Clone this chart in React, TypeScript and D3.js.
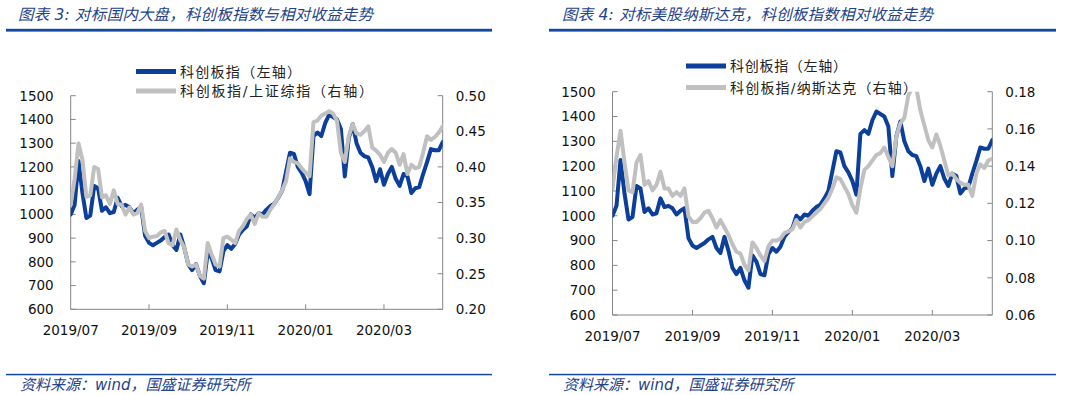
import * as d3 from "d3";

// x axis: trading-day index, label every 40 trading days (every 2nd point kept)
const xLabels = ["2019/07", "2019/09", "2019/11", "2020/01", "2020/03"];
const xLabelIdx = [0, 20, 40, 60, 80];

// 科创板指
const kcIndex = [
  1000, 1040, 1225, 1090, 985, 995, 1120, 1110, 1015, 1030,
  1005, 1010, 1070, 1035, 1040, 1030, 1005, 1020, 1030, 910,
  880, 870, 880, 890, 905, 915, 870, 850, 915, 860,
  790, 765, 790, 740, 710, 840, 815, 765, 760, 845,
  870, 855, 875, 915, 935, 950, 1000, 985, 1005, 1000,
  1020, 1035, 1045, 1070, 1100, 1180, 1260, 1255, 1200, 1175,
  1140, 1085, 1330, 1345, 1330, 1385, 1420, 1410, 1400, 1360,
  1160, 1320, 1380, 1300, 1260, 1245, 1240, 1200, 1140, 1190,
  1125, 1170, 1200, 1150, 1120, 1170, 1160, 1090, 1110, 1115,
  1170, 1220, 1275, 1270, 1270, 1305,
];

// 科创板指/上证综指
const kcVsSse = [
  0.347, 0.383, 0.433, 0.41, 0.358, 0.36, 0.4, 0.397, 0.357, 0.36,
  0.348, 0.367, 0.348, 0.347, 0.333, 0.343, 0.333, 0.335, 0.347, 0.31,
  0.3, 0.302, 0.303, 0.308, 0.31, 0.293, 0.29, 0.312, 0.297, 0.287,
  0.263, 0.26, 0.263, 0.247, 0.243, 0.293, 0.277, 0.263, 0.26, 0.3,
  0.302, 0.298, 0.293, 0.31, 0.317, 0.327, 0.333, 0.32, 0.335, 0.33,
  0.33, 0.34, 0.348, 0.357, 0.367, 0.38, 0.412, 0.407, 0.405, 0.398,
  0.392, 0.387, 0.463, 0.465, 0.472, 0.475, 0.478, 0.475, 0.465, 0.42,
  0.407, 0.443, 0.46, 0.447, 0.445, 0.45, 0.457, 0.427, 0.423, 0.417,
  0.407, 0.42, 0.425, 0.42, 0.403, 0.418, 0.39, 0.403, 0.398, 0.4,
  0.42, 0.443, 0.438, 0.442, 0.448, 0.457,
];

// 科创板指/纳斯达克
const kcVsNasdaq = [
  0.128, 0.145, 0.159, 0.142, 0.127, 0.126, 0.142, 0.146, 0.13, 0.132,
  0.127, 0.13, 0.137, 0.128, 0.128, 0.124, 0.126, 0.124, 0.128, 0.113,
  0.11, 0.11, 0.112, 0.115, 0.116, 0.112, 0.107, 0.111, 0.107, 0.103,
  0.098, 0.094, 0.093, 0.087, 0.084, 0.099, 0.096, 0.092, 0.089, 0.097,
  0.1, 0.1, 0.101, 0.104, 0.105, 0.106, 0.111, 0.107, 0.11, 0.111,
  0.113, 0.115, 0.117, 0.12, 0.123, 0.128, 0.134, 0.133, 0.129, 0.125,
  0.119, 0.115, 0.128, 0.138, 0.14, 0.143, 0.146, 0.147, 0.15, 0.145,
  0.14, 0.156, 0.163, 0.166, 0.178, 0.182, 0.182, 0.17, 0.162, 0.154,
  0.15, 0.157, 0.151, 0.143, 0.135, 0.136, 0.133, 0.131, 0.13, 0.13,
  0.124, 0.136, 0.141, 0.139, 0.143, 0.144,
];

const leftTicks = [600, 700, 800, 900, 1000, 1100, 1200, 1300, 1400, 1500];
const sseTicks = [0.2, 0.25, 0.3, 0.35, 0.4, 0.45, 0.5];
const ndqTicks = [0.06, 0.08, 0.1, 0.12, 0.14, 0.16, 0.18];

const BLUE = "#0c3f9a";
const GRAY = "#c0c0c0";
const AXIS = "#868686";
const TITLE = "#23428a";
const RULE = "#1248a0";
const NUM_FONT = "'DejaVu Sans', Verdana, sans-serif";
const CJK_FONT = "'DejaVu Sans', 'Noto Sans CJK SC', sans-serif";

interface PanelProps {
  id: string;
  x0: number;
  x1: number;
  y0: number;
  y1: number;
  ratio: number[];
  ratioTicks: number[];
  title: string;
  titleX: number;
  titleW: number;
  ruleX0: number;
  ruleX1: number;
  legend1: string;
  legend1W: number;
  legend2: string;
  legend2W: number;
  legX: number;
  legY: number;
  legGap: number;
  footX: number;
}

function Panel(p: PanelProps) {
  const x = d3
    .scaleLinear()
    .domain([0, kcIndex.length - 1])
    .range([p.x0, p.x1]);
  const yL = d3.scaleLinear().domain([600, 1500]).range([p.y1, p.y0]);
  const yR = d3
    .scaleLinear()
    .domain([p.ratioTicks[0], p.ratioTicks[p.ratioTicks.length - 1]])
    .range([p.y1, p.y0]);

  const blueLine = d3
    .line<number>()
    .x((_, i) => x(i))
    .y((d) => yL(d));
  const grayLine = d3
    .line<number>()
    .x((_, i) => x(i))
    .y((d) => yR(d));

  const ticksLen = 5;

  return (
    <g>
      <defs>
        <clipPath id={`clip-${p.id}`}>
          <rect x={p.x0} y={p.y0} width={p.x1 - p.x0} height={p.y1 - p.y0} />
        </clipPath>
      </defs>
      {/* header */}
      <text
        x={p.titleX}
        y={19.5}
        fontSize={15.5}
        fontStyle="italic"
        fill={TITLE}
        fontFamily={CJK_FONT}
        textLength={p.titleW}
        lengthAdjust="spacing"
      >
        {p.title}
      </text>
      <rect x={p.ruleX0} y={28.8} width={p.ruleX1 - p.ruleX0} height={2.8} fill={RULE} />

      {/* axes */}
      <line x1={p.x0} x2={p.x0} y1={p.y0} y2={p.y1} stroke={AXIS} />
      <line x1={p.x1} x2={p.x1} y1={p.y0} y2={p.y1} stroke={AXIS} />
      <line x1={p.x0} x2={p.x1} y1={p.y1} y2={p.y1} stroke={AXIS} />
      {leftTicks.map((t) => (
        <g key={`l${t}`}>
          <line x1={p.x0} x2={p.x0 + ticksLen} y1={yL(t)} y2={yL(t)} stroke={AXIS} />
          <text
            x={p.x0 - 17}
            y={yL(t)}
            dy="0.36em"
            textAnchor="end"
            fontSize={13.5}
            fontFamily={NUM_FONT}
            fill="#111"
          >
            {t}
          </text>
        </g>
      ))}
      {p.ratioTicks.map((t) => (
        <g key={`r${t}`}>
          <line x1={p.x1 - ticksLen} x2={p.x1} y1={yR(t)} y2={yR(t)} stroke={AXIS} />
          <text
            x={p.x1 + 13}
            y={yR(t)}
            dy="0.36em"
            fontSize={13.5}
            fontFamily={NUM_FONT}
            fill="#111"
          >
            {d3.format(".2f")(t)}
          </text>
        </g>
      ))}
      {xLabelIdx.map((idx, k) => (
        <g key={`x${idx}`}>
          {idx > 0 && (
            <line x1={x(idx)} x2={x(idx)} y1={p.y1} y2={p.y1 - ticksLen} stroke={AXIS} />
          )}
          <text
            x={x(idx)}
            y={p.y1 + 26}
            textAnchor="middle"
            fontSize={13.5}
            fontFamily={NUM_FONT}
            fill="#111"
          >
            {xLabels[k]}
          </text>
        </g>
      ))}

      {/* series */}
      <g clipPath={`url(#clip-${p.id})`}>
        <path
          d={blueLine(kcIndex) ?? ""}
          fill="none"
          stroke={BLUE}
          strokeWidth={4}
          strokeLinejoin="round"
          strokeLinecap="round"
        />
        <path
          d={grayLine(p.ratio) ?? ""}
          fill="none"
          stroke={GRAY}
          strokeWidth={4}
          strokeLinejoin="round"
          strokeLinecap="round"
        />
      </g>

      {/* legend */}
      <line x1={p.legX} x2={p.legX + 40} y1={p.legY} y2={p.legY} stroke={BLUE} strokeWidth={5} />
      <text
        x={p.legX + 44}
        y={p.legY}
        dy="0.36em"
        fontSize={14}
        fontFamily={CJK_FONT}
        fill="#222"
        textLength={p.legend1W}
        lengthAdjust="spacing"
      >
        {p.legend1}
      </text>
      <line
        x1={p.legX}
        x2={p.legX + 40}
        y1={p.legY + p.legGap}
        y2={p.legY + p.legGap}
        stroke={GRAY}
        strokeWidth={5}
      />
      <text
        x={p.legX + 44}
        y={p.legY + p.legGap}
        dy="0.36em"
        fontSize={14}
        fontFamily={CJK_FONT}
        fill="#222"
        textLength={p.legend2W}
        lengthAdjust="spacing"
      >
        {p.legend2}
      </text>

      {/* footer */}
      <rect x={p.ruleX0} y={373.8} width={p.ruleX1 - p.ruleX0} height={1.5} fill={RULE} />
      <text
        x={p.footX}
        y={390}
        fontSize={15}
        fontStyle="italic"
        fill={TITLE}
        fontFamily={CJK_FONT}
      >
        资料来源：wind，国盛证券研究所
      </text>
    </g>
  );
}

export default function App() {
  return (
    <svg
      width={1080}
      height={395}
      style={{ position: "absolute", left: 0, top: 0, background: "#fff" }}
    >
      <rect width={1080} height={395} fill="#fff" />
      <Panel
        id="a"
        x0={70.7}
        x1={442.7}
        y0={95.7}
        y1={309.3}
        ratio={kcVsSse}
        ratioTicks={sseTicks}
        title="图表 3:  对标国内大盘，科创板指数与相对收益走势"
        titleX={18}
        titleW={355}
        ruleX0={6}
        ruleX1={492}
        legend1="科创板指（左轴）"
        legend1W={121}
        legend2="科创板指/上证综指（右轴）"
        legend2W={193}
        legX={136}
        legY={71.5}
        legGap={19.5}
        footX={20}
      />
      <Panel
        id="b"
        x0={612.5}
        x1={992.3}
        y0={91.7}
        y1={315}
        ratio={kcVsNasdaq}
        ratioTicks={ndqTicks}
        title="图表 4:  对标美股纳斯达克，科创板指数相对收益走势"
        titleX={562}
        titleW={371}
        ruleX0={549}
        ruleX1={1056}
        legend1="科创板指（左轴）"
        legend1W={117}
        legend2="科创板指/纳斯达克（右轴）"
        legend2W={187}
        legX={686}
        legY={66}
        legGap={21.5}
        footX={563}
      />
    </svg>
  );
}
